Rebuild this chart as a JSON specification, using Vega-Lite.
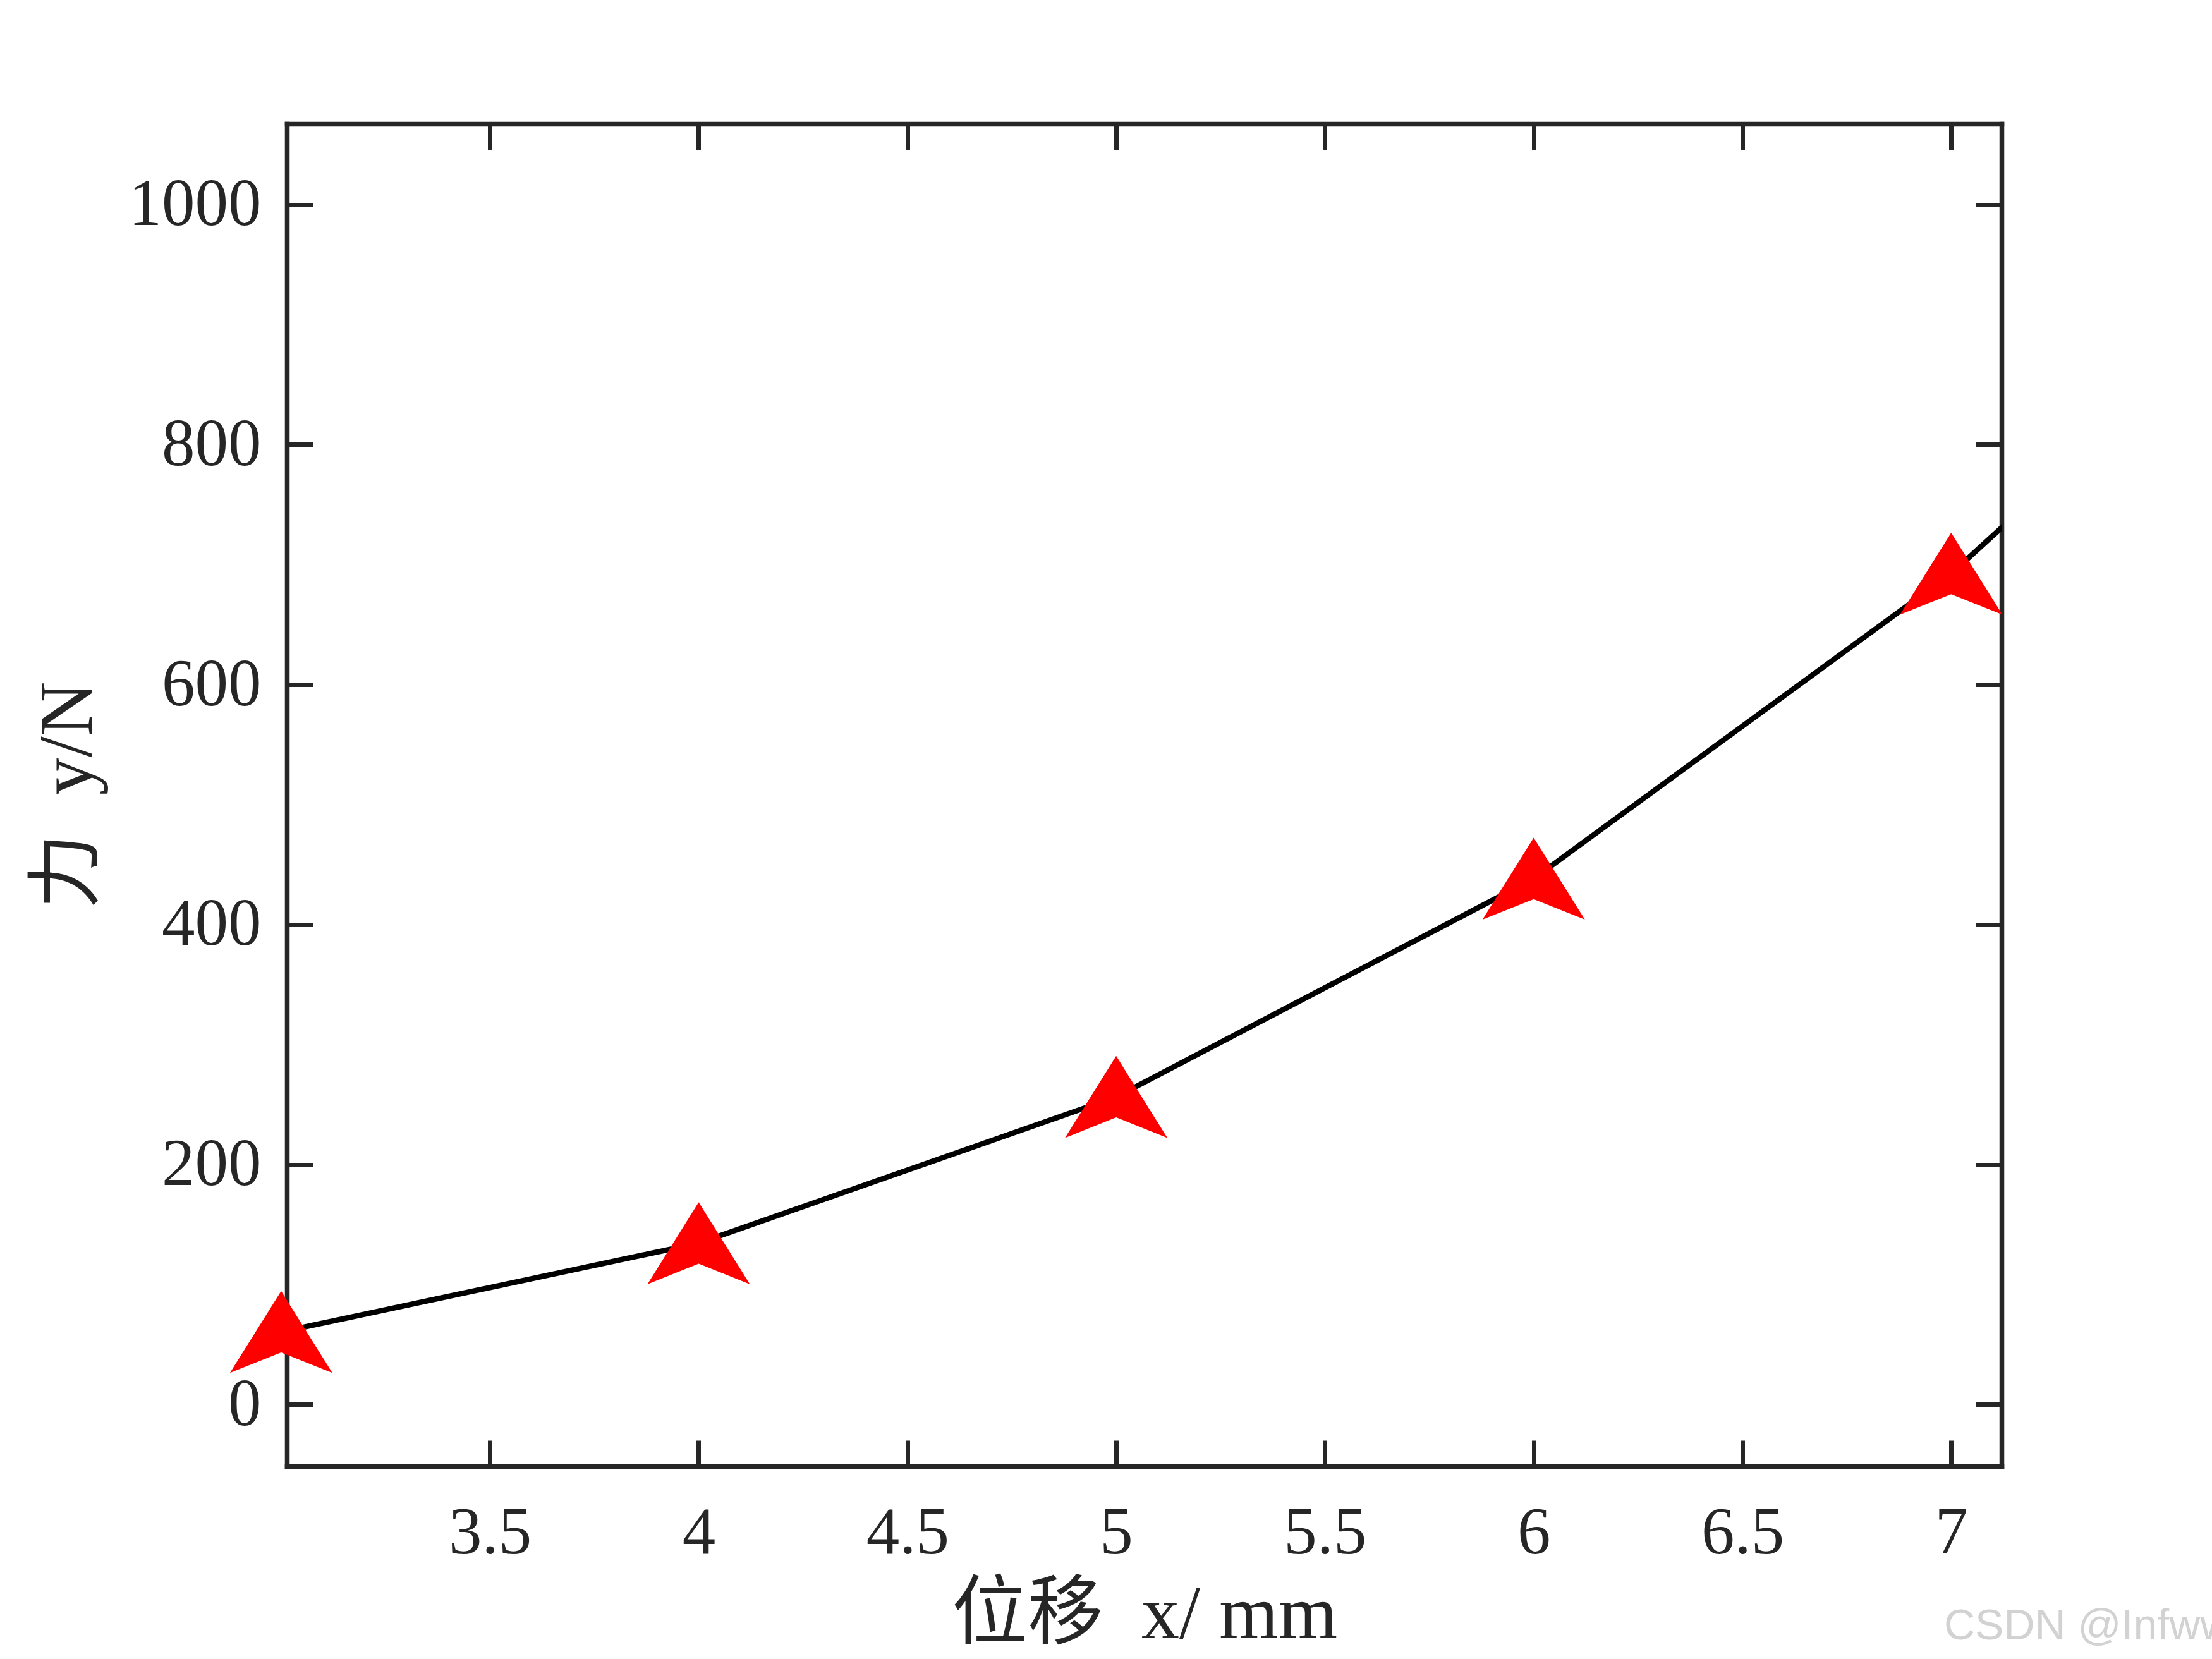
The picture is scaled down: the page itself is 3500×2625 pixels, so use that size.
{
  "$schema": "https://vega.github.io/schema/vega-lite/v6.json",
  "width": 2713,
  "height": 2124,
  "autosize": {"type": "none"},
  "padding": {"left": 454, "top": 196, "right": 333, "bottom": 305},
  "background": "white",
  "title": {
    "text": "CSDN @Infwww",
    "orient": "bottom",
    "anchor": "start",
    "frame": "group",
    "font": "Liberation Sans",
    "fontSize": 68,
    "fontWeight": "normal",
    "color": "#d2d2d2",
    "offset": 0,
    "dx": 2622,
    "dy": -75
  },
  "config": {
    "view": {"stroke": null},
    "axis": {
      "grid": false,
      "domainColor": "#262626",
      "domainWidth": 7.5,
      "domainCap": "square",
      "tickColor": "#262626",
      "tickWidth": 7,
      "tickSize": -41,
      "labelFont": "Liberation Serif",
      "labelFontSize": 105,
      "labelColor": "#262626",
      "labelFlush": false,
      "labelOverlap": false,
      "labelBound": false,
      "labelLimit": 0,
      "titleFont": "Liberation Serif, Noto Sans CJK SC",
      "titleFontSize": 120,
      "titleFontWeight": "normal",
      "titleColor": "#262626",
      "titleLimit": 0
    }
  },
  "data": {
    "values": [
      {"x": 3, "y": 60.4},
      {"x": 4, "y": 134.4},
      {"x": 5, "y": 256.3},
      {"x": 6, "y": 438.2},
      {"x": 7, "y": 692.4},
      {"x": 8, "y": 1010}
    ]
  },
  "layer": [
    {
      "mark": {"type": "line", "color": "#000000", "strokeWidth": 8.5, "clip": true},
      "encoding": {
        "x": {
          "field": "x",
          "type": "quantitative",
          "scale": {"domain": [3.0138, 7.1206], "nice": false, "zero": false},
          "axis": {
            "orient": "bottom",
            "values": [3.5, 4, 4.5, 5, 5.5, 6, 6.5, 7],
            "format": "~g",
            "labelPadding": 95,
            "title": "位移\u00a0\u00a0x/\u00a0mm",
            "titlePadding": 18
          }
        },
        "y": {
          "field": "y",
          "type": "quantitative",
          "scale": {"domain": [-51.5, 1067.3], "nice": false, "zero": false},
          "axis": {
            "orient": "left",
            "values": [0, 200, 400, 600, 800, 1000],
            "format": "d",
            "labelPadding": 82,
            "title": "力\u00a0\u00a0y/N",
            "titlePadding": 85
          }
        }
      }
    },
    {
      "transform": [{"filter": "datum.x <= 7"}],
      "mark": {
        "type": "point",
        "shape": "M0,-0.8L1,0.8L0,0.4L-1,0.8Z",
        "size": 26244,
        "filled": true,
        "color": "#ff0000",
        "opacity": 1,
        "strokeWidth": 0
      },
      "encoding": {
        "x": {
          "field": "x",
          "type": "quantitative",
          "axis": {
            "orient": "top",
            "values": [3.5, 4, 4.5, 5, 5.5, 6, 6.5, 7],
            "labels": false,
            "title": null
          }
        },
        "y": {
          "field": "y",
          "type": "quantitative",
          "axis": {
            "orient": "right",
            "values": [0, 200, 400, 600, 800, 1000],
            "labels": false,
            "title": null
          }
        }
      }
    }
  ],
  "resolve": {"axis": {"x": "independent", "y": "independent"}}
}
